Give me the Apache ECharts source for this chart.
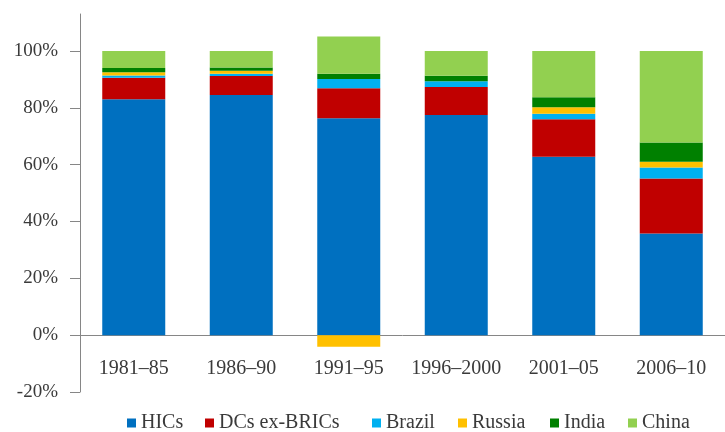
<!DOCTYPE html>
<html>
<head>
<meta charset="utf-8">
<script src="https://cdn.jsdelivr.net/npm/echarts@6/dist/echarts.min.js"></script>
<style>html,body{margin:0;padding:0;background:#fff;}#c{width:725px;height:432px;}</style>
</head>
<body>
<div id="c"></div>
<script>
var categories = ['1981–85', '1986–90', '1991–95', '1996–2000', '2001–05', '2006–10'];
var seriesNames = ['HICs', 'DCs ex-BRICs', 'Brazil', 'Russia', 'India', 'China'];
var hics   = [83.0, 84.5, 76.3, 77.5, 62.8, 35.8];
var dcs    = [7.6, 6.7, 10.6, 9.8, 13.2, 19.3];
var brazil = [0.8, 0.8, 3.2, 2.0, 1.9, 3.9];
var russia = [1.1, 1.0, -4.1, 0.0, 2.3, 2.0];
var india  = [1.5, 1.2, 1.9, 2.0, 3.5, 6.8];
var china  = [6.0, 5.8, 13.1, 8.7, 16.3, 32.2];
var yTicks = [-20, 0, 20, 40, 60, 80, 100];

var colors = ['#0070C0', '#C00000', '#00B0F0', '#FFC000', '#008000', '#92D050'];
var values = [hics, dcs, brazil, russia, india, china];
var legendLeft = [127, 205, 372, 458, 550, 628];
var font = 'Liberation Serif';
var textColor = '#3a3a3a';
var axisColor = '#868686';

var Y_MIN = -20, Y_MAX = 113;
var gridTop = 14, gridBottom = 40, chartH = 432;
var plotH = chartH - gridTop - gridBottom;
var zeroOffset = -plotH * (0 - Y_MIN) / (Y_MAX - Y_MIN);

var series = seriesNames.map(function (n, i) {
  return {
    name: n, type: 'bar', stack: 'total', barWidth: 63,
    itemStyle: { color: colors[i] },
    data: values[i]
  };
});

var legends = seriesNames.map(function (n, i) {
  return {
    data: [n], left: legendLeft[i], top: 413, padding: 0,
    itemWidth: 9, itemHeight: 9, icon: 'rect', selectedMode: false,
    textStyle: { fontFamily: font, fontSize: 20, color: textColor }
  };
});

var chart = echarts.init(document.getElementById('c'), null, { renderer: 'canvas' });
chart.setOption({
  animation: false,
  backgroundColor: '#ffffff',
  grid: { left: 80, right: -10, top: gridTop, bottom: gridBottom },
  legend: legends,
  xAxis: {
    type: 'category', data: categories, position: 'bottom', offset: zeroOffset,
    axisLine: { onZero: false, lineStyle: { color: axisColor, width: 1 } },
    axisTick: { show: false },
    axisLabel: { margin: 24, fontFamily: font, fontSize: 20, color: textColor, interval: 0 }
  },
  yAxis: [{
    type: 'value', min: Y_MIN, max: Y_MAX, position: 'left',
    axisLine: { show: true, onZero: false, lineStyle: { color: axisColor, width: 1 } },
    axisTick: { show: true, length: 7, customValues: yTicks, lineStyle: { color: axisColor } },
    splitLine: { show: false },
    axisLabel: {
      customValues: yTicks, margin: 22,
      fontFamily: font, fontSize: 19, color: textColor,
      formatter: function (v) { return v + '%'; }
    }
  }, {
    type: 'value', min: Y_MIN, max: Y_MAX, position: 'right', offset: -655,
    axisLine: { show: false, onZero: false },
    axisTick: { show: true, inside: false, length: 7, customValues: yTicks, lineStyle: { color: axisColor } },
    axisLabel: { show: false },
    splitLine: { show: false }
  }],
  series: series
});
</script>
</body>
</html>
